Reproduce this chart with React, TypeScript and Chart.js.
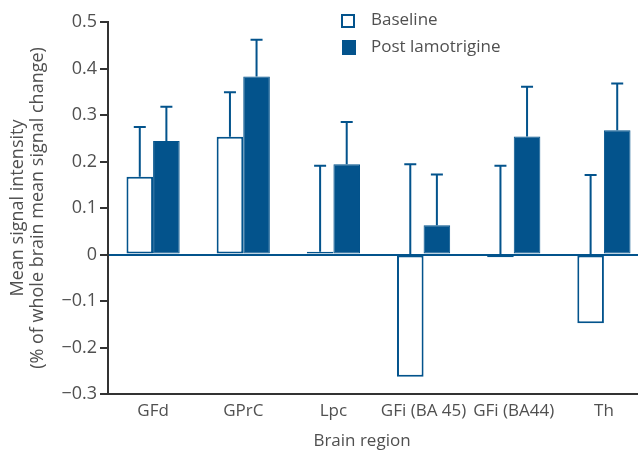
import React, { useEffect, useRef } from 'react';
import { Chart, registerables } from 'chart.js';

Chart.register(...registerables);

const categories = ['GFd', 'GPrC', 'Lpc', 'GFi (BA 45)', 'GFi (BA44)', 'Th'];
const baseline = [0.167, 0.253, 0.006, -0.263, -0.006, -0.148];
const post = [0.244, 0.383, 0.194, 0.063, 0.254, 0.267];
const baselineErrTop = [0.274, 0.349, 0.191, 0.194, 0.191, 0.171];
const postErrTop = [0.318, 0.462, 0.285, 0.172, 0.361, 0.368];
const seriesNames = ['Baseline', 'Post lamotrigine'];
const yTitle = ['Mean signal intensity', '(% of whole brain mean signal change)'];
const xTitle = 'Brain region';

const BLUE = '#03538C';
const TEXT = '#505050';
const AXIS = '#333333';
const FONT = '"Open Sans", sans-serif';

export default function App() {
  const ref = useRef<HTMLCanvasElement>(null);

  useEffect(() => {
    const canvas = ref.current!;
    const errPlugin = {
      id: 'errbars',
      afterDatasetsDraw(chart: any) {
        const ctx = chart.ctx;
        const y = chart.scales.y;
        const tops = [baselineErrTop, postErrTop];
        chart.data.datasets.forEach((ds: any, di: number) => {
          const meta = chart.getDatasetMeta(di);
          meta.data.forEach((el: any, i: number) => {
            const v = ds.data[i];
            const y0 = y.getPixelForValue(Math.max(v, 0));
            const y1 = y.getPixelForValue(tops[di][i]);
            ctx.save();
            ctx.strokeStyle = BLUE;
            ctx.lineWidth = 2;
            ctx.beginPath();
            ctx.moveTo(el.x, y0);
            ctx.lineTo(el.x, y1);
            ctx.moveTo(el.x - 6, y1);
            ctx.lineTo(el.x + 6, y1);
            ctx.stroke();
            ctx.restore();
          });
        });
      },
    };
    const decorPlugin = {
      id: 'decor',
      afterDraw(chart: any) {
        const ctx = chart.ctx;
        ctx.save();
        // legend
        ctx.strokeStyle = BLUE;
        ctx.lineWidth = 2;
        ctx.fillStyle = '#ffffff';
        ctx.fillRect(342, 15, 12, 12);
        ctx.strokeRect(342, 15, 12, 12);
        ctx.fillStyle = BLUE;
        ctx.fillRect(342, 40, 14, 15);
        ctx.fillStyle = TEXT;
        ctx.font = '17px ' + FONT;
        ctx.textBaseline = 'middle';
        ctx.textAlign = 'left';
        ctx.fillText(seriesNames[0], 371, 20);
        ctx.fillText(seriesNames[1], 371, 47);
        // x title
        ctx.textAlign = 'center';
        ctx.fillText(xTitle, 362, 441);
        ctx.restore();
      },
    };

    const chart = new Chart(canvas, {
      type: 'bar',
      data: {
        labels: categories,
        datasets: [
          {
            label: seriesNames[0],
            data: baseline,
            backgroundColor: '#ffffff',
            borderColor: BLUE,
            borderWidth: 2,
            borderSkipped: false,
          },
          {
            label: seriesNames[1],
            data: post,
            backgroundColor: BLUE,
            borderColor: BLUE,
            borderWidth: 1,
            borderSkipped: false,
          },
        ],
      },
      options: {
        responsive: false,
        animation: false,
        layout: { padding: { top: 22, right: 1, left: 0, bottom: 0 } },
        datasets: { bar: { categoryPercentage: 0.59, barPercentage: 1 } },
        plugins: { legend: { display: false }, tooltip: { enabled: false } },
        scales: {
          x: {
            grid: { display: false, drawTicks: false },
            border: { display: true, color: AXIS, width: 2 },
            ticks: {
              color: TEXT,
              font: { family: FONT, size: 17 },
              padding: 7,
              maxRotation: 0,
              autoSkip: false,
            },
            afterFit: (s: any) => {
              s.height = 57;
            },
          },
          y: {
            min: -0.3,
            max: 0.5,
            ticks: {
              stepSize: 0.1,
              color: TEXT,
              font: { family: FONT, size: 18 },
              padding: 3,
              callback: (v: any) => {
                const r = Math.round(Number(v) * 10) / 10;
                if (r === 0) return '0';
                return r < 0 ? '\u2212' + Math.abs(r).toFixed(1) : r.toFixed(1);
              },
            },
            grid: {
              color: (c: any) =>
                c.tick && Math.abs(c.tick.value) < 1e-9 ? BLUE : 'rgba(0,0,0,0)',
              lineWidth: 2,
              tickColor: AXIS,
              tickLength: 8,
              drawOnChartArea: true,
            },
            border: { color: AXIS, width: 2 },
            title: {
              display: true,
              text: yTitle,
              color: TEXT,
              font: { family: FONT, size: 18, lineHeight: 1.1 },
              padding: { top: 8, bottom: 0 },
            },
            afterFit: (s: any) => {
              s.width = 108;
            },
          },
        },
      },
      plugins: [errPlugin, decorPlugin],
    } as any);
    return () => chart.destroy();
  }, []);

  return (
    <div
      style={{
        position: 'absolute',
        left: 0,
        top: 0,
        width: 638,
        height: 451,
        overflow: 'hidden',
        background: '#fff',
      }}
    >
      <canvas ref={ref} width={650} height={451} style={{ display: 'block' }} />
    </div>
  );
}
